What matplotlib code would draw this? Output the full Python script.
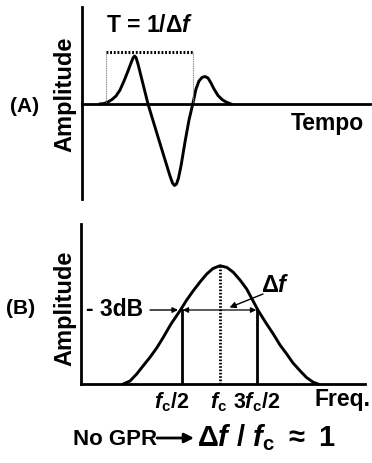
import matplotlib
matplotlib.use("Agg")
import matplotlib.pyplot as plt

plt.rcParams['font.family'] = ['Liberation Sans', 'DejaVu Sans']
plt.rcParams['font.weight'] = 'bold'
plt.rcParams['mathtext.fontset'] = 'custom'
plt.rcParams['mathtext.rm'] = 'Liberation Sans:bold'
plt.rcParams['mathtext.bf'] = 'Liberation Sans:bold'
plt.rcParams['mathtext.it'] = 'Liberation Sans:italic:bold'
plt.rcParams['mathtext.sf'] = 'Liberation Sans'

# ---- Data: (A) time-domain pulse ----
pulse_t = [1.8, 2.2, 2.6, 3.0, 3.4, 3.8, 4.2, 4.6, 4.9, 5.1, 5.25, 5.4, 5.6, 6.6, 7.6, 8.4,
           8.8, 9.05, 9.25, 9.45, 9.65, 9.9, 10.3, 10.7, 11.1, 11.4, 11.7, 12.0, 12.3, 12.6,
           12.9, 13.2, 13.6, 14.0, 14.4, 14.9]
pulse_a = [0, 0.05, 0.2, 0.45, 0.8, 1.4, 2.3, 3.3, 4.1, 4.6, 4.8, 4.65, 4.0, 0, -3.3, -5.9,
           -7.2, -7.9, -8.15, -8.0, -7.4, -6.2, -3.8, -1.6, 0.1, 1.5, 2.3, 2.65, 2.75, 2.6,
           2.1, 1.5, 0.85, 0.45, 0.2, 0]
period_start, period_end, period_level = 2.4, 11.1, 5.2

# ---- Data: (B) spectrum ----
spec_f = [4.23, 4.9, 5.57, 6.2, 6.9, 7.57, 8.23, 9.0, 9.9, 10.57, 11.23, 11.9, 12.57, 13.2,
          13.9, 14.6, 15.23, 15.9, 16.57, 17.1, 17.73, 18.5, 19.23, 19.9, 20.57, 21.2, 21.9,
          22.55, 23.23, 23.7]
spec_a = [0, 0.3, 1.0, 1.8, 2.67, 3.6, 4.67, 6.0, 7.33, 8.4, 9.33, 10.2, 11.0, 11.55, 11.83,
          11.65, 11.17, 10.4, 9.5, 8.5, 7.33, 6.1, 5.0, 3.9, 3.0, 2.1, 1.33, 0.65, 0.17, 0]
f_center, f_low, f_high = 13.9, 10.07, 17.63
peak_amp, half_power_amp = 11.83, 7.4
tick_pos = [9.1, 13.8, 17.6]
tick_labels = [r'$f_\mathrm{c}\mathrm{/2}$', r'$f_\mathrm{c}$', r'$\mathrm{3}f_\mathrm{c}\mathrm{/2}$']

W, H = 372, 464
fig = plt.figure(figsize=(W / 100, H / 100), dpi=100)


def P(x, y):
    return (x / W, 1 - y / H)


def axes_px(l, r, t, b):
    return fig.add_axes([l / W, 1 - b / H, (r - l) / W, (b - t) / H])


# ---------- Panel A ----------
axA = axes_px(82, 370, 8, 200)
axA.set_xlim(0, 28.8)
axA.set_ylim(-9.5, 9.7)
axA.patch.set_alpha(0)
for s in ['top', 'right']:
    axA.spines[s].set_visible(False)
axA.spines['bottom'].set_position(('data', 0))
axA.spines['left'].set_linewidth(2)
axA.spines['bottom'].set_linewidth(2)
axA.set_xticks([])
axA.set_yticks([])
axA.plot(pulse_t, pulse_a, color='black', lw=2.1, solid_joinstyle='round')
axA.plot([period_start, period_end], [period_level, period_level], color='black',
         lw=2.2, ls=(0, (0.6, 0.6)))
for xv in [period_start, period_end]:
    axA.plot([xv, xv], [0, period_level], color='#888888', lw=0.8, ls=(0, (1, 0.6)))

fig.text(*P(150, 26), r'T = 1/$\mathsf{Δ}f$', ha='center', va='center', fontsize=16.5)
fig.text(*P(327, 124), 'Tempo', ha='center', va='center', fontsize=16.5)
fig.text(*P(65, 94), 'Amplitude', ha='center', va='center', rotation=90, fontsize=17)
fig.text(*P(25, 107), '(A)', ha='center', va='center', fontsize=15)

# ---------- Panel B ----------
axB = axes_px(81, 365, 225, 385)
axB.set_xlim(0, 28.4)
axB.set_ylim(0, 16)
axB.patch.set_alpha(0)
for s in ['top', 'right']:
    axB.spines[s].set_visible(False)
axB.spines['left'].set_linewidth(2)
axB.spines['bottom'].set_linewidth(2)
axB.set_yticks([])
axB.set_xticks(tick_pos)
axB.set_xticklabels(tick_labels, fontsize=15.5)
axB.tick_params(axis='x', length=0, pad=4)
axB.plot(spec_f, spec_a, color='black', lw=2.1, clip_on=False)
for xv in [f_low, f_high]:
    axB.plot([xv, xv], [0, half_power_amp], color='black', lw=2)
axB.plot([f_center, f_center], [0, peak_amp], color='black', lw=2, ls=(0, (0.6, 0.6)))
axB.annotate('', xy=(f_low + 0.1, half_power_amp), xytext=(f_high - 0.1, half_power_amp),
             arrowprops=dict(arrowstyle='<|-|>', color='black', lw=0.9,
                             mutation_scale=8, shrinkA=0, shrinkB=0))
axB.annotate('', xy=(14.85, 7.65), xytext=(18.2, 9.0),
             arrowprops=dict(arrowstyle='-|>', color='black', lw=1.0,
                             mutation_scale=9, shrinkA=0, shrinkB=0))
axB.annotate('', xy=(9.7, 7.4), xytext=(6.9, 7.4),
             arrowprops=dict(arrowstyle='-|>', color='black', lw=1.0,
                             mutation_scale=8, shrinkA=0, shrinkB=0))

fig.text(*P(275, 285), r'$\mathsf{Δ}f$', ha='center', va='center', fontsize=17)
fig.text(*P(115, 310), '- 3dB', ha='center', va='center', fontsize=16.5)
fig.text(*P(342, 400), 'Freq.', ha='center', va='center', fontsize=16.5)
fig.text(*P(65, 308), 'Amplitude', ha='center', va='center', rotation=90, fontsize=17)
fig.text(*P(21, 308), '(B)', ha='center', va='center', fontsize=15)

# ---------- Bottom caption ----------
fig.text(*P(73, 440), 'No GPR', ha='left', va='center', fontsize=16)
fig.add_artist(matplotlib.patches.FancyArrowPatch(P(157, 439), P(194, 439),
               transform=fig.transFigure, arrowstyle='-|>', mutation_scale=14,
               color='black', lw=2, shrinkA=0, shrinkB=0))
fig.text(*P(197, 438), r'$\mathsf{Δ}f\ \mathrm{/}\ f_\mathrm{c}\ \approx\ \mathrm{1}$',
         ha='left', va='center', fontsize=21)

fig.savefig('out.png', dpi=100)
